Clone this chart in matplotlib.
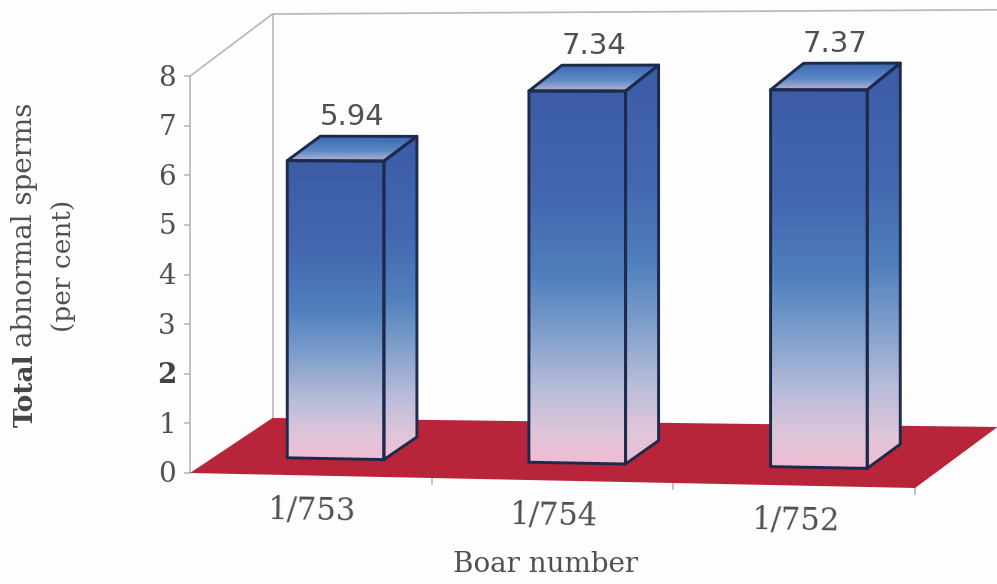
import numpy as np
import matplotlib
matplotlib.use("Agg")
import matplotlib.pyplot as plt
from matplotlib.colors import LinearSegmentedColormap
from matplotlib.patches import Polygon

boars = ["1/753", "1/754", "1/752"]
abnormal = [5.94, 7.34, 7.37]
y_ticks = [0, 1, 2, 3, 4, 5, 6, 7, 8]

# bar footprint inside each category slot, and depth of the bars in the box
BAR_U = (0.30, 0.70)
BAR_D = (0.30, 0.70)
EDGE = "#1e2a4c"
GREY = "#b4b7bb"
TEXT = "#505050"
SERIF = "DejaVu Serif"

face_cmap = LinearSegmentedColormap.from_list("face", [
    (0.0, "#3c5ca6"), (0.3, "#4468b0"), (0.5, "#5080bd"), (0.65, "#7f9fcc"),
    (0.8, "#b8bcd9"), (0.92, "#e0c6da"), (1.0, "#f0bcd2")])
top_cmap = LinearSegmentedColormap.from_list("top", [
    (0.0, "#3a66b2"), (0.6, "#5f8ac6"), (1.0, "#b8b4d4")])


def project(u, v, d):
    # oblique view of the chart box: u along categories, v value, d depth 0-1
    x = 190 + u * 241.67 + d * 82.5
    base = 473 + u * 5 - d * (55 + u * 2)
    scale = 49.6 + u * 0.55 + d * 0.9
    return x, base - v * scale


def shade(ax, corners, cmap):
    pts = np.array(corners)
    im = ax.imshow(np.linspace(0, 1, 256)[:, None], cmap=cmap, aspect="auto", origin="upper",
                   extent=(pts[:, 0].min(), pts[:, 0].max(), pts[:, 1].max(), pts[:, 1].min()),
                   interpolation="bilinear", zorder=3)
    im.set_clip_path(Polygon(pts, transform=ax.transData))
    ax.add_patch(Polygon(pts, closed=True, fill=False, edgecolor=EDGE, linewidth=2.1,
                         joinstyle="round", zorder=4))


fig = plt.figure(figsize=(9.97, 5.84), dpi=100, facecolor="#fdfdfd")
ax = fig.add_axes([0, 0, 1, 1])

# walls
wall = [project(0, 0, 0), project(0, 8, 0), project(0, 8, 1), project(3, 8, 1)]
ax.plot(*zip(*wall), color=GREY, lw=1.2, zorder=1)
ax.plot(*zip(project(0, 8, 1), project(0, 0, 1)), color=GREY, lw=1.2, zorder=1)

# floor
floor = [project(0, 0, 0), project(0, 0, 1), project(3, 0, 1), project(3, 0, 0)]
ax.add_patch(Polygon(floor, closed=True, facecolor="#b8243a", edgecolor="none", zorder=2))

# value axis
for t in y_ticks:
    x, y = project(0, t, 0)
    ax.plot([x - 5, x], [y, y], color=GREY, lw=1.2, zorder=1)
    ax.text(x - 23, y + 2, str(t), family=SERIF, fontsize=20, ha="center", va="center",
            color="#444444" if t == 2 else TEXT, fontweight="bold" if t == 2 else "normal")

# category axis
for i in range(1, 4):
    x, y = project(i, 0, 0)
    ax.plot([x, x], [y, y + 6], color=GREY, lw=1.2, zorder=1)

# bars
for i, (name, val) in enumerate(zip(boars, abnormal)):
    u0, u1 = i + BAR_U[0], i + BAR_U[1]
    d0, d1 = BAR_D
    shade(ax, [project(u1, val, d0), project(u1, val, d1), project(u1, 0, d1), project(u1, 0, d0)], face_cmap)
    shade(ax, [project(u0, val, d1), project(u1, val, d1), project(u1, val, d0), project(u0, val, d0)], top_cmap)
    shade(ax, [project(u0, val, d0), project(u1, val, d0), project(u1, 0, d0), project(u0, 0, d0)], face_cmap)

    x, y = project((u0 + u1) / 2, val, 0.5)
    ax.text(x, y - 32, f"{val:.2f}", fontsize=21, ha="center", va="center", color=TEXT)

    x, y = project(i + 0.5, 0, 0)
    ax.text(x + 1, y + 36, name, family=SERIF, fontsize=22, ha="center", va="center",
            color=TEXT, rotation=-1)

# axis titles
ax.text(546, 565, "Boar number", family=SERIF, fontsize=20, ha="center", va="center", color=TEXT)
ax.text(25, 225, "abnormal sperms", family=SERIF, fontsize=20, ha="center", va="center",
        color=TEXT, rotation=90)
ax.text(25, 390, "Total", family=SERIF, fontsize=19, ha="center", va="center",
        color="#444444", fontweight="bold", rotation=90)
ax.text(63, 266, "(per cent)", family=SERIF, fontsize=19, ha="center", va="center",
        color=TEXT, rotation=90)

ax.set_xlim(0, 997)
ax.set_ylim(584, 0)
ax.axis("off")

fig.savefig("out.png", dpi=100, facecolor=fig.get_facecolor())
